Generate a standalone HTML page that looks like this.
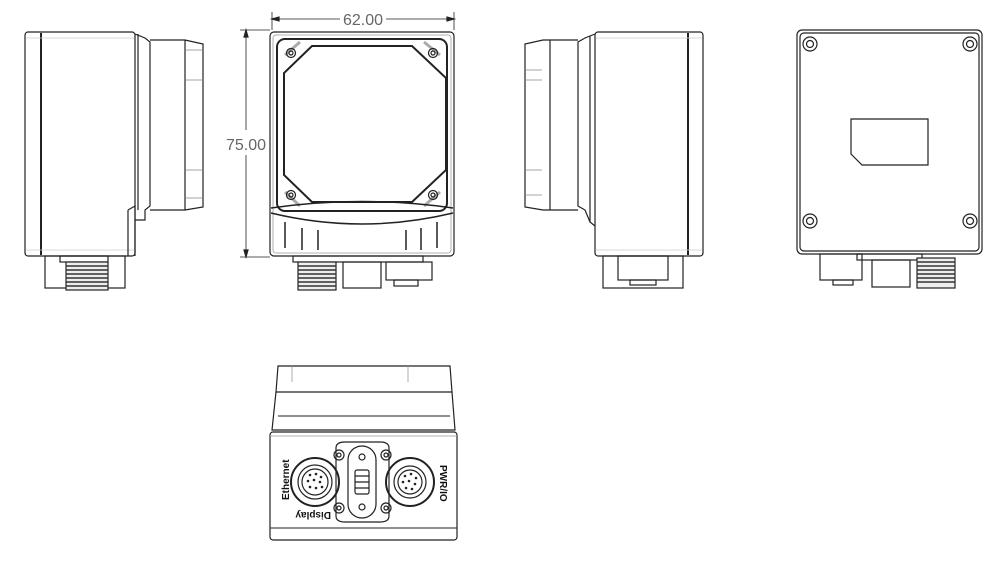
<!DOCTYPE html>
<html><head><meta charset="utf-8"><style>
html,body{margin:0;padding:0;background:#fff;width:1000px;height:566px;overflow:hidden}
svg{display:block}
text{font-family:"Liberation Sans",sans-serif}
</style></head><body>
<svg width="1000" height="566" viewBox="0 0 1000 566" fill="none" stroke="#222" stroke-width="1.2">
<!-- View 1 side -->
<g>
<rect x="25" y="32" width="110" height="224" rx="3"/>
<line x1="41" y1="33" x2="41" y2="255" stroke-width="2"/>
<line x1="26" y1="38" x2="134" y2="38" stroke="#ccc" stroke-width="0.8"/>
<line x1="26" y1="250" x2="134" y2="250" stroke="#ccc" stroke-width="0.8"/>
<path d="M135 34 L145 38 L150 42 L150 206 L145 210 L145 220 L135 220"/>
<line x1="138" y1="34" x2="138" y2="210"/>
<path d="M150 40 L185 40 L203 44 L203 207 L185 210 L150 210"/>
<line x1="185" y1="40" x2="185" y2="210"/>
<path d="M186 50 L203 50 M186 80 L203 80 M186 170 L203 170 M186 198 L203 198" stroke="#888" stroke-width="0.8"/>
<path d="M128 210 L135 206 L135 256 M128 210 L128 256"/>
<rect x="45" y="256" width="80" height="32"/>
<rect x="60" y="256" width="48" height="6"/>
<rect x="66" y="262" width="42" height="28" fill="#eee"/>
<path d="M66 266h42M66 270h42M66 274h42M66 278h42M66 282h42M66 286h42" stroke="#333" stroke-width="1.5"/>
</g>
<!-- View 2 front -->
<g>
<line x1="272" y1="12" x2="272" y2="30" stroke-width="0.8"/>
<line x1="454" y1="12" x2="454" y2="30" stroke-width="0.8"/>
<line x1="272" y1="19" x2="340" y2="19" stroke-width="0.8"/>
<line x1="386" y1="19" x2="454" y2="19" stroke-width="0.8"/>
<path d="M272 19l7-2v4z M454 19l-7-2v4z" fill="#222"/>
<text x="363" y="25" font-size="16" fill="#666" stroke="none" text-anchor="middle">62.00</text>
<line x1="240" y1="30" x2="270" y2="30" stroke-width="0.8"/>
<line x1="240" y1="257" x2="270" y2="257" stroke-width="0.8"/>
<line x1="246" y1="30" x2="246" y2="130" stroke-width="0.8"/>
<line x1="246" y1="155" x2="246" y2="257" stroke-width="0.8"/>
<path d="M246 30l-2 7h4z M246 257l-2-7h4z" fill="#222"/>
<text x="246" y="150" font-size="16" fill="#666" stroke="none" text-anchor="middle">75.00</text>
<rect x="270" y="32" width="184" height="224" rx="4"/>
<rect x="273" y="35" width="178" height="218" rx="3" stroke="#999" stroke-width="0.8"/>
<rect x="277" y="39" width="170" height="172" rx="8" stroke-width="2"/>
<path d="M312 46 L412 46 L446 78 L446 170 L412 202 L312 202 L284 175 L284 73 Z" stroke-width="2"/>
<path d="M300 42 L285 55 M424 42 L440 55 M300 206 L285 192 M424 206 L440 192" stroke="#aaa" stroke-width="3"/>
<circle cx="291" cy="53" r="4.5"/><circle cx="291" cy="53" r="2"/>
<circle cx="433" cy="53" r="4.5"/><circle cx="433" cy="53" r="2"/>
<circle cx="291" cy="195" r="4.5"/><circle cx="291" cy="195" r="2"/>
<circle cx="433" cy="195" r="4.5"/><circle cx="433" cy="195" r="2"/>
<path d="M271 208 Q362 195 453 208" stroke-width="1.5"/>
<path d="M271 213 Q362 235 453 213" stroke-width="1.5"/>
<path d="M285 222v26M302 228v22M318 230v20M406 230v20M421 228v22M437 222v26" stroke-width="1.5"/>
<rect x="293" y="256" width="130" height="6"/>
<rect x="298" y="262" width="38" height="28" fill="#eee"/>
<path d="M298 266h38M298 270h38M298 274h38M298 278h38M298 282h38M298 286h38" stroke="#333" stroke-width="1.5"/>
<rect x="343" y="262" width="38" height="26"/>
<rect x="386" y="262" width="46" height="18"/>
<rect x="394" y="280" width="24" height="6"/>
</g>
<!-- View 3 side -->
<g>
<rect x="595" y="32" width="108" height="224" rx="3"/>
<line x1="688" y1="33" x2="688" y2="255" stroke-width="2"/>
<line x1="596" y1="38" x2="702" y2="38" stroke="#ccc" stroke-width="0.8"/>
<line x1="596" y1="250" x2="702" y2="250" stroke="#ccc" stroke-width="0.8"/>
<path d="M595 34 L585 38 L578 42 L578 206 L585 210 L590 222 L595 226"/>
<line x1="590" y1="36" x2="590" y2="222"/>
<path d="M578 40 L543 40 L525 44 L525 207 L543 210 L578 210"/>
<line x1="550" y1="40" x2="550" y2="210"/>
<path d="M525 70 L542 70 M525 80 L542 80 M525 170 L542 170 M525 195 L542 195" stroke="#888" stroke-width="0.8"/>
<rect x="603" y="256" width="80" height="32"/>
<rect x="618" y="256" width="50" height="24"/>
<rect x="630" y="280" width="26" height="5"/>
</g>
<!-- View 4 back -->
<g>
<rect x="797" y="30" width="185" height="224" rx="5"/>
<rect x="800" y="33" width="179" height="218" rx="4"/>
<circle cx="810" cy="44" r="7"/><circle cx="810" cy="44" r="3.5"/>
<circle cx="970" cy="44" r="7"/><circle cx="970" cy="44" r="3.5"/>
<circle cx="810" cy="221" r="7"/><circle cx="810" cy="221" r="3.5"/>
<circle cx="970" cy="221" r="7"/><circle cx="970" cy="221" r="3.5"/>
<path d="M851 119 H928 V165 H862 L851 154 Z"/>
<rect x="820" y="254" width="42" height="26"/>
<rect x="833" y="280" width="20" height="5"/>
<rect x="857" y="254" width="65" height="6"/>
<rect x="872" y="260" width="38" height="27"/>
<rect x="917" y="258" width="38" height="30" fill="#eee"/>
<path d="M917 262h38M917 266h38M917 270h38M917 274h38M917 278h38M917 282h38" stroke="#333" stroke-width="1.5"/>
</g>
<!-- View 5 bottom -->
<g>
<path d="M278 366 L450 366 L452 392 L455 430 L272 430 L276 392 Z" stroke-width="1.2"/>
<line x1="276" y1="392" x2="452" y2="392" stroke-width="1.2"/>
<path d="M278 416 L450 416" stroke-width="1"/>
<path d="M292 366v16M408 366v16" stroke="#999" stroke-width="0.8"/>
<rect x="270" y="432" width="187" height="108" rx="3"/>
<line x1="270" y1="528" x2="457" y2="528" stroke-width="1"/>
<line x1="270" y1="436" x2="457" y2="436" stroke="#999" stroke-width="0.8"/>
<circle cx="315" cy="482" r="24" stroke-width="2"/>
<circle cx="315" cy="482" r="17"/>
<circle cx="315" cy="482" r="13"/>
<g fill="#222" stroke="none">
<circle cx="310" cy="475" r="1.3"/><circle cx="316" cy="474" r="1.3"/><circle cx="321" cy="477" r="1.3"/><circle cx="308" cy="481" r="1.3"/><circle cx="314" cy="480" r="1.3"/><circle cx="320" cy="482" r="1.3"/><circle cx="310" cy="487" r="1.3"/><circle cx="316" cy="488" r="1.3"/><circle cx="322" cy="487" r="1.3"/>
<circle cx="405" cy="476" r="1.3"/><circle cx="411" cy="474" r="1.3"/><circle cx="416" cy="478" r="1.3"/><circle cx="403" cy="482" r="1.3"/><circle cx="409" cy="481" r="1.3"/><circle cx="415" cy="484" r="1.3"/><circle cx="406" cy="488" r="1.3"/><circle cx="412" cy="489" r="1.3"/>
</g>
<circle cx="410" cy="482" r="24" stroke-width="2"/>
<circle cx="410" cy="482" r="16"/>
<circle cx="410" cy="482" r="12"/>
<path d="M336 448 Q336 442 345 442 L380 442 Q389 442 389 448 L389 516 Q389 522 380 522 L345 522 Q336 522 336 516 Z"/>
<rect x="348" y="446" width="28" height="72" rx="14"/>
<rect x="355" y="470" width="14" height="24" rx="2"/>
<path d="M355 476h14M355 482h14M355 488h14"/>
<circle cx="362" cy="457" r="3"/><circle cx="362" cy="507" r="3"/>
<circle cx="339" cy="455" r="5"/><circle cx="339" cy="455" r="2"/>
<circle cx="386" cy="455" r="5"/><circle cx="386" cy="455" r="2"/>
<circle cx="339" cy="508" r="5"/><circle cx="339" cy="508" r="2"/>
<circle cx="386" cy="508" r="5"/><circle cx="386" cy="508" r="2"/>
<g fill="#111" stroke="none" font-size="10" font-weight="bold">
<text transform="translate(289,500) rotate(-90)">Ethernet</text>
<text transform="translate(440,465) rotate(90)">PWR/IO</text>
<text transform="translate(331,512) rotate(180)">Display</text>
</g>
</g>
</svg>
</body></html>
